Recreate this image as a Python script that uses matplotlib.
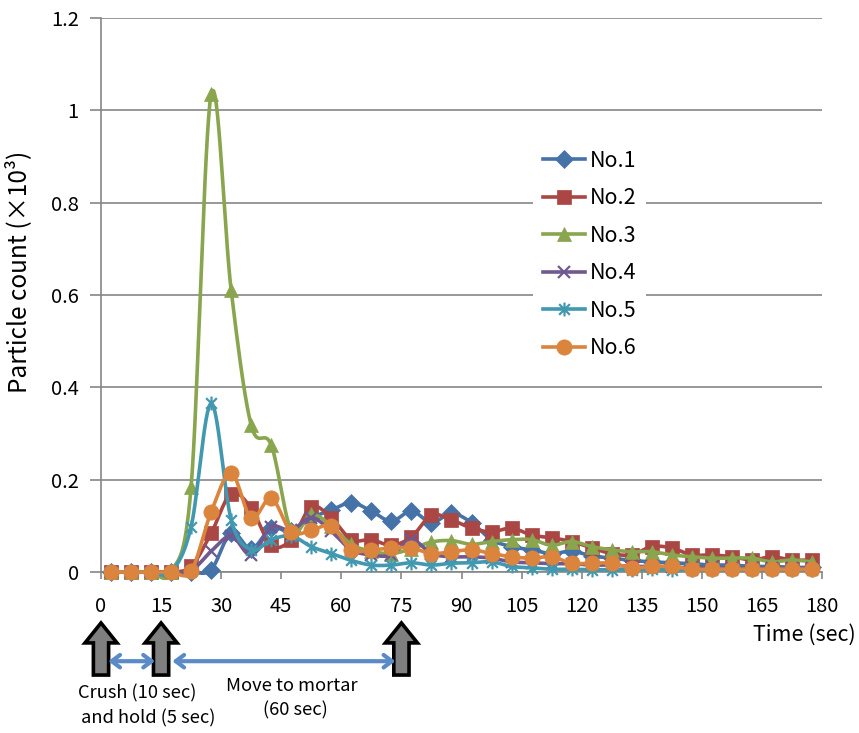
import numpy as np
import matplotlib
matplotlib.use("Agg")
import matplotlib.pyplot as plt
import matplotlib.transforms as mtransforms
from matplotlib.path import Path
from matplotlib.patches import Polygon

plt.rcParams['font.family'] = ['Noto Sans CJK JP', 'DejaVu Sans']

# sampling times (sec), one point every 5 s
times = [2.5 + 5 * k for k in range(36)]

no1 = [0, 0, 0, 0, 0, 0.005, 0.085, 0.05, 0.095, 0.088, 0.117, 0.134,
       0.15, 0.132, 0.11, 0.132, 0.107, 0.127, 0.107, 0.07, 0.055, 0.048,
       0.04, 0.045, 0.035, 0.03, 0.025, 0.022, 0.02, 0.018, 0.015, 0.015,
       0.012, 0.012, 0.01, 0.01]
no2 = [0, 0, 0, 0, 0.012, 0.084, 0.17, 0.138, 0.058, 0.07, 0.141, 0.117,
       0.07, 0.07, 0.058, 0.076, 0.123, 0.113, 0.095, 0.087, 0.095, 0.08,
       0.074, 0.066, 0.052, 0.04, 0.037, 0.055, 0.052, 0.037, 0.037, 0.033,
       0.026, 0.033, 0.026, 0.026]
no3 = [0, 0, 0, 0, 0.185, 1.035, 0.61, 0.318, 0.275, 0.09, 0.125, 0.10,
       0.06, 0.045, 0.04, 0.05, 0.065, 0.068, 0.06, 0.066, 0.07, 0.07,
       0.058, 0.066, 0.055, 0.048, 0.044, 0.044, 0.037, 0.033, 0.03, 0.03,
       0.03, 0.022, 0.026, 0.022]
no4 = [0, 0, 0, 0, 0.003, 0.045, 0.078, 0.037, 0.097, 0.09, 0.118, 0.088,
       0.048, 0.037, 0.037, 0.07, 0.04, 0.033, 0.033, 0.03, 0.022, 0.02,
       0.018, 0.018, 0.015, 0.015, 0.012, 0.012, 0.01, 0.01, 0.01, 0.008,
       0.008, 0.008, 0.008, 0.008]
no5 = [0, 0, 0, 0, 0.098, 0.365, 0.113, 0.048, 0.07, 0.078, 0.055, 0.04,
       0.025, 0.015, 0.015, 0.02, 0.015, 0.019, 0.02, 0.022, 0.012, 0.009,
       0.006, 0.006, 0.005, 0.005, 0.005, 0.006, 0.005, 0.005, 0.005, 0.005,
       0.005, 0.005, 0.005, 0.005]
no6 = [0, 0, 0, 0, 0.002, 0.13, 0.214, 0.117, 0.16, 0.087, 0.09, 0.10,
       0.048, 0.048, 0.052, 0.052, 0.04, 0.044, 0.048, 0.04, 0.033, 0.03,
       0.033, 0.019, 0.019, 0.019, 0.009, 0.012, 0.012, 0.006, 0.006, 0.006,
       0.006, 0.006, 0.006, 0.006]

labels = ["No.1", "No.2", "No.3", "No.4", "No.5", "No.6"]
colors = ["#4572A7", "#AA4643", "#89A54E", "#71588F", "#4198AF", "#DB843D"]

# x + vertical bar, like the Excel star marker
star = Path([(-1, -1), (1, 1), (-1, 1), (1, -1), (0, -1.3), (0, 1.3)],
            [Path.MOVETO, Path.LINETO, Path.MOVETO, Path.LINETO,
             Path.MOVETO, Path.LINETO])
markers = [("D", 9.5), ("s", 9.5), ("^", 10), ("x", 9), (star, 10), ("o", 11)]


def smooth(x, y, n=16):
    # cubic bezier through the points (same idea as Excel smoothed lines)
    x = np.asarray(x, float)
    y = np.asarray(y, float)
    px = np.concatenate([[x[0]], x, [x[-1]]])
    py = np.concatenate([[y[0]], y, [y[-1]]])
    t = np.linspace(0, 1, n, endpoint=False)[:, None]
    xs, ys = [], []
    for i in range(len(x) - 1):
        p0 = np.array([px[i], py[i]])
        p1 = np.array([px[i + 1], py[i + 1]])
        p2 = np.array([px[i + 2], py[i + 2]])
        p3 = np.array([px[i + 3], py[i + 3]])
        c1 = p1 + (p2 - p0) / 6
        c2 = p2 - (p3 - p1) / 6
        b = ((1 - t) ** 3) * p1 + 3 * ((1 - t) ** 2) * t * c1 \
            + 3 * (1 - t) * t ** 2 * c2 + t ** 3 * p2
        xs.append(b[:, 0])
        ys.append(b[:, 1])
    xs.append([x[-1]])
    ys.append([y[-1]])
    return np.concatenate(xs), np.concatenate(ys)


fig = plt.figure(figsize=(8.59, 7.33), dpi=100)
ax = fig.add_axes([101 / 859, 1 - 572 / 733, 721 / 859, 554 / 733])

series = [no1, no2, no3, no4, no5, no6]
for i, vals in enumerate(series):
    sx, sy = smooth(times, vals)
    ax.plot(sx, sy, color=colors[i], lw=2.6, zorder=3 + i, clip_on=False,
            solid_capstyle="round")
    m, ms = markers[i]
    mew = 1.6 if i in (3, 4) else 0.5
    ax.plot(times, vals, linestyle="none", marker=m, markersize=ms,
            color=colors[i], markeredgecolor=colors[i], markeredgewidth=mew,
            zorder=3 + i, clip_on=False)
    # legend proxy
    ax.plot([], [], color=colors[i], lw=2.6, marker=m, markersize=ms,
            markeredgecolor=colors[i], markeredgewidth=mew, label=labels[i])

ax.set_xlim(0, 180)
ax.set_ylim(0, 1.2)
ax.set_xticks(range(0, 181, 15))
ax.set_yticks([0, 0.2, 0.4, 0.6, 0.8, 1.0, 1.2])
ax.set_yticklabels(["0", "0.2", "0.4", "0.6", "0.8", "1", "1.2"])
ax.grid(axis="y", color="#868686", lw=1.2)
ax.set_axisbelow(True)
for s in ("top", "right"):
    ax.spines[s].set_visible(False)
for s in ("left", "bottom"):
    ax.spines[s].set_color("#868686")
    ax.spines[s].set_linewidth(1.2)
ax.tick_params(axis="x", direction="out", length=5, width=1.2,
               color="#868686", labelsize=14.5, pad=12)
ax.tick_params(axis="y", direction="out", length=8, width=1.2,
               color="#868686", labelsize=14.5, pad=8)
ax.set_ylabel("Particle count (×10³)", fontsize=17.5)
ax.yaxis.set_label_coords(-0.095, (572 - 272) / 554)

leg = ax.legend(loc="upper left", bbox_to_anchor=((533 - 101) / 721, (572 - 140) / 554),
                frameon=True, fancybox=False, edgecolor="none", facecolor="white",
                framealpha=1, fontsize=15.5, handlelength=1.95, handletextpad=0.22,
                labelspacing=0.72, borderaxespad=0, borderpad=0.45)
leg.set_zorder(20)

# annotations below the axis
trans = mtransforms.blended_transform_factory(ax.transData, ax.transAxes)
ax.text(188.5, -0.114, "Time (sec)", transform=trans, ha="right", va="center",
        fontsize=15.5)


def block_arrow(cx):
    hs, hh = 1.9, 4.0
    y_top, y_base, y_bot = -0.092, -0.128, -0.186
    pts = [(cx, y_top), (cx + hh, y_base), (cx + hs, y_base), (cx + hs, y_bot),
           (cx - hs, y_bot), (cx - hs, y_base), (cx - hh, y_base)]
    ax.add_patch(Polygon(pts, closed=True, transform=trans, clip_on=False,
                         facecolor="#7f7f7f", edgecolor="black", lw=2.6,
                         joinstyle="miter"))


for cx in (0, 15, 75):
    block_arrow(cx)

for x0, x1 in ((1.8, 13.5), (17.8, 73.5)):
    ax.annotate("", xy=(x1, -0.161), xytext=(x0, -0.161), xycoords=trans,
                textcoords=trans, annotation_clip=False,
                arrowprops=dict(arrowstyle="<->,head_length=0.6,head_width=0.45",
                                color="#5B8BC7", lw=3, shrinkA=0, shrinkB=0))

ax.text(9, -0.220, "Crush (10 sec)", transform=trans, ha="center", va="center",
        fontsize=13.2)
ax.text(11.9, -0.264, "and hold (5 sec)", transform=trans, ha="center",
        va="center", fontsize=13.2)
ax.text(47.6, -0.206, "Move to mortar", transform=trans, ha="center",
        va="center", fontsize=13.2)
ax.text(48.5, -0.249, "(60 sec)", transform=trans, ha="center", va="center",
        fontsize=13.2)

fig.savefig("out.png", dpi=100)
